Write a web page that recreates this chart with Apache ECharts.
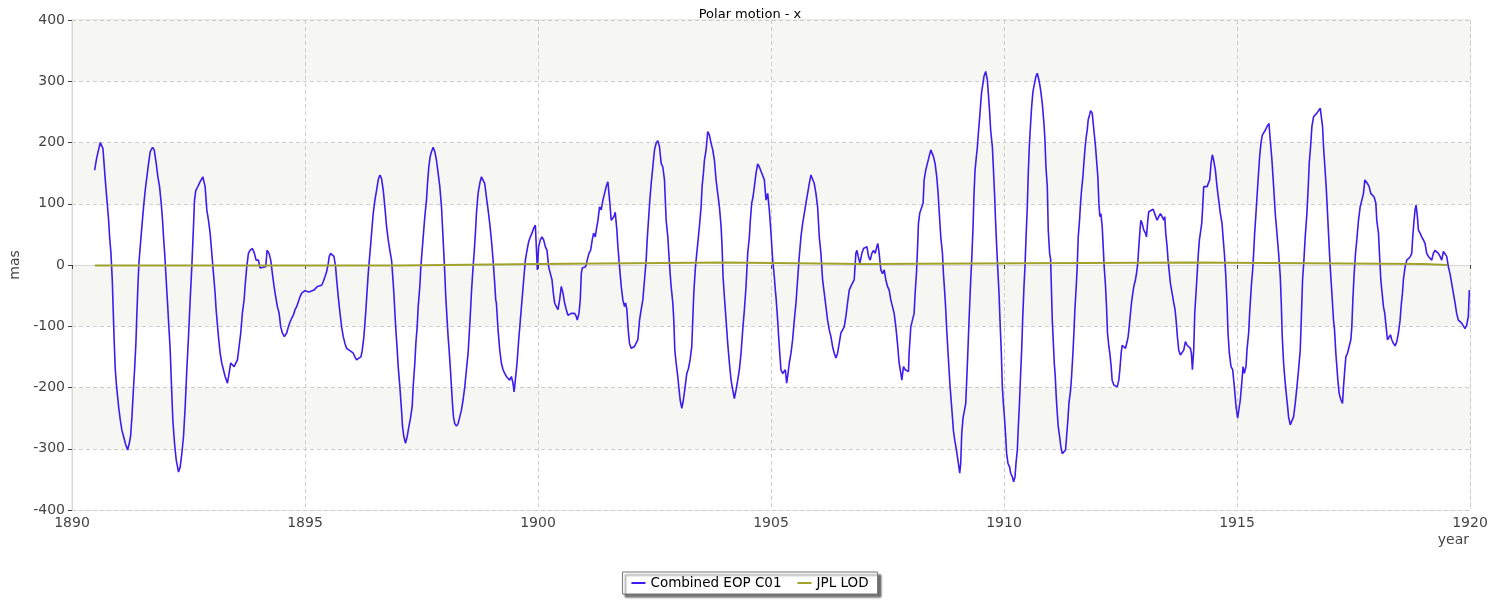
<!DOCTYPE html>
<html>
<head>
<meta charset="utf-8">
<script src="https://cdn.jsdelivr.net/npm/echarts@6/dist/echarts.min.js"></script>
<style>html,body{margin:0;padding:0;background:#fff;}#chart{width:1500px;height:600px;}</style>
</head>
<body>
<div id="chart"></div>
<script>
const titleText = 'Polar motion - x';
const seriesNames = ['Combined EOP C01', 'JPL LOD'];
const xName = 'year';
const yName = 'mas';

// Combined EOP C01 : [year, mas]
const c01 = [
[1890.486,155],[1890.53,175],[1890.607,200],[1890.664,190],[1890.714,139],[1890.75,106],[1890.786,73],[1890.807,46],[1890.836,19],[1890.864,-24],[1890.886,-78],[1890.907,-128],[1890.929,-171],[1890.957,-199],[1891.0,-231],[1891.036,-253],[1891.071,-270],[1891.107,-280],[1891.143,-291],[1891.193,-302],[1891.229,-291],[1891.257,-280],[1891.286,-248],[1891.321,-199],[1891.343,-171],[1891.371,-128],[1891.393,-78],[1891.414,-35],[1891.436,3],[1891.464,30],[1891.5,63],[1891.536,95],[1891.571,122],[1891.607,144],[1891.643,166],[1891.679,185],[1891.729,192],[1891.764,188],[1891.807,166],[1891.843,144],[1891.879,128],[1891.914,101],[1891.943,73],[1891.964,46],[1891.993,14],[1892.021,-24],[1892.05,-62],[1892.079,-101],[1892.107,-139],[1892.136,-199],[1892.164,-253],[1892.2,-291],[1892.236,-318],[1892.286,-338],[1892.321,-330],[1892.357,-308],[1892.393,-280],[1892.429,-231],[1892.464,-171],[1892.5,-117],[1892.536,-57],[1892.571,-3],[1892.607,63],[1892.629,106],[1892.657,122],[1892.7,128],[1892.75,136],[1892.807,144],[1892.857,128],[1892.893,90],[1892.929,73],[1892.964,52],[1893.0,19],[1893.036,-14],[1893.071,-46],[1893.093,-73],
[1893.143,-117],[1893.179,-144],[1893.214,-160],[1893.25,-171],[1893.286,-182],[1893.336,-193],[1893.371,-177],[1893.407,-160],[1893.443,-160],[1893.479,-166],[1893.514,-166],[1893.55,-155],[1893.586,-133],[1893.621,-111],[1893.657,-78],[1893.693,-57],[1893.714,-35],[1893.75,-3],[1893.786,19],[1893.821,24],[1893.871,27],[1893.914,19],[1893.95,8],[1894.0,8],[1894.036,-5],[1894.071,-3],[1894.157,-3],[1894.186,24],[1894.229,19],[1894.264,8],[1894.3,-14],[1894.336,-35],[1894.371,-52],[1894.407,-68],[1894.443,-78],[1894.479,-101],[1894.514,-111],[1894.557,-117],[1894.607,-111],[1894.643,-101],[1894.679,-93],[1894.714,-87],[1894.75,-82],[1894.786,-73],[1894.821,-68],[1894.857,-60],[1894.893,-52],[1894.929,-46],[1894.964,-44],[1895.0,-42],[1895.086,-44],[1895.121,-46],[1895.193,-41],[1895.264,-35],[1895.357,-33],[1895.393,-27],[1895.429,-19],[1895.464,-11],[1895.5,3],[1895.521,14],[1895.55,19],[1895.586,22],[1895.621,14],[1895.657,-3],[1895.679,-24],[1895.714,-52],[1895.75,-78],[1895.786,-101],[1895.821,-117],[1895.857,-128],[1895.893,-136],[1895.929,-139],[1895.986,-141],[1896.036,-144],[1896.071,-150],[1896.107,-155],
[1896.157,-152],[1896.2,-150],[1896.229,-139],[1896.264,-117],[1896.286,-95],[1896.307,-73],[1896.329,-46],[1896.357,-14],[1896.393,19],[1896.429,52],[1896.464,84],[1896.5,106],[1896.536,122],[1896.571,139],[1896.607,147],[1896.643,141],[1896.679,122],[1896.714,95],[1896.75,63],[1896.786,41],[1896.821,24],[1896.857,8],[1896.879,-14],[1896.907,-46],[1896.929,-78],[1896.95,-106],[1896.979,-139],[1897.0,-166],[1897.036,-199],[1897.071,-237],[1897.093,-264],[1897.121,-280],[1897.157,-291],[1897.193,-280],[1897.229,-264],[1897.264,-250],[1897.3,-231],[1897.321,-199],[1897.357,-160],[1897.379,-128],[1897.407,-101],[1897.429,-68],[1897.464,-35],[1897.486,-3],[1897.514,24],[1897.543,52],[1897.571,79],[1897.607,106],[1897.629,133],[1897.657,160],[1897.686,177],[1897.714,185],[1897.75,192],[1897.786,185],[1897.821,171],[1897.857,150],[1897.893,128],[1897.929,95],[1897.95,63],[1897.979,19],[1898.0,-14],[1898.021,-52],[1898.05,-90],[1898.071,-117],[1898.093,-139],[1898.121,-171],[1898.143,-199],[1898.164,-226],[1898.186,-248],[1898.214,-259],[1898.25,-263],[1898.286,-259],[1898.321,-248],[1898.357,-237],[1898.393,-220],[1898.429,-199],[1898.464,-171],[1898.5,-144],[1898.521,-117],[1898.55,-78],[1898.571,-46],[1898.607,-3],[1898.629,19],[1898.657,52],[1898.679,84],[1898.714,117],[1898.75,133],[1898.786,144],[1898.821,145],[1898.857,133],[1898.893,111],[1898.929,90],[1898.964,68],[1899.0,41],[1899.036,8],[1899.071,-30],[1899.093,-57],
[1899.107,-62],[1899.143,-106],[1899.179,-139],[1899.214,-160],[1899.25,-171],[1899.286,-177],[1899.321,-182],[1899.357,-185],[1899.393,-188],[1899.429,-182],[1899.464,-193],[1899.486,-207],[1899.514,-188],[1899.55,-160],[1899.586,-122],[1899.621,-90],[1899.657,-57],[1899.693,-24],[1899.729,8],[1899.764,24],[1899.8,38],[1899.836,46],[1899.871,52],[1899.907,60],[1899.943,65],[1899.964,30],[1899.986,-8],[1900.014,30],[1900.05,41],[1900.086,46],[1900.121,41],[1900.157,30],[1900.193,24],[1900.229,-3],[1900.264,-5],[1900.3,-24],[1900.329,-46],[1900.357,-62],[1900.393,-68],[1900.429,-73],[1900.464,-57],[1900.5,-35],[1900.536,-46],[1900.571,-62],[1900.607,-73],[1900.643,-82],[1900.714,-79],[1900.75,-76],[1900.786,-79],[1900.821,-84],[1900.843,-90],[1900.879,-79],[1900.907,-57],[1900.929,-14],[1900.95,-5],[1900.986,-8],[1901.021,-3],[1901.057,8],[1901.093,19],[1901.129,24],[1901.164,41],[1901.193,52],[1901.229,46],[1901.25,57],[1901.286,73],[1901.321,95],[1901.357,90],[1901.393,106],[1901.429,117],[1901.464,128],[1901.5,136],[1901.536,106],[1901.571,73],[1901.593,71],[1901.629,79],[1901.657,86],[1901.693,57],[1901.714,30],[1901.75,-3],[1901.786,-35],[1901.821,-57],[1901.857,-68],[1901.879,-62],[1901.907,-73],[1901.936,-106],[1901.964,-128],[1902.0,-136],[1902.036,-139],[1902.071,-133],
[1902.107,-131],[1902.143,-122],[1902.179,-90],[1902.214,-73],[1902.25,-57],[1902.286,-24],[1902.321,8],[1902.343,41],[1902.371,73],[1902.4,106],[1902.429,133],[1902.464,160],[1902.5,188],[1902.536,199],[1902.571,203],[1902.607,193],[1902.643,166],[1902.679,160],[1902.714,139],[1902.75,73],[1902.786,46],[1902.807,19],[1902.836,-14],[1902.857,-35],[1902.893,-62],[1902.914,-90],[1902.936,-139],[1902.964,-160],[1903.0,-182],[1903.021,-199],[1903.05,-220],[1903.086,-234],[1903.121,-220],[1903.157,-199],[1903.193,-177],[1903.229,-169],[1903.264,-155],[1903.3,-133],[1903.321,-90],[1903.343,-46],[1903.379,-3],[1903.407,19],[1903.436,41],[1903.464,63],[1903.5,95],[1903.521,128],[1903.55,150],[1903.571,171],[1903.607,188],[1903.643,218],[1903.679,212],[1903.714,199],[1903.75,188],[1903.786,171],[1903.821,139],[1903.857,117],[1903.893,95],[1903.929,63],[1903.95,30],[1903.971,-19],[1904.0,-52],[1904.036,-90],[1904.071,-128],[1904.107,-160],[1904.143,-188],[1904.179,-204],[1904.214,-218],[1904.25,-204],[1904.286,-188],[1904.321,-171],[1904.357,-144],[1904.393,-106],[1904.429,-73],[1904.464,-35],[1904.5,19],[1904.536,46],[1904.557,73],[1904.586,101],[1904.614,111],[1904.643,128],[1904.679,150],[1904.714,165],[1904.75,160],[1904.786,153],[1904.821,150],[1904.857,139],[1904.893,106],[1904.929,117],[1904.964,90],[1905.0,52],[1905.036,8],[1905.071,-19],[1905.093,-41],
[1905.107,-52],[1905.143,-90],[1905.164,-117],[1905.193,-150],[1905.214,-171],[1905.25,-177],[1905.286,-180],[1905.307,-171],[1905.336,-193],[1905.357,-182],[1905.393,-160],[1905.429,-144],[1905.464,-122],[1905.5,-90],[1905.536,-62],[1905.571,-24],[1905.607,14],[1905.643,46],[1905.679,68],[1905.714,84],[1905.75,101],[1905.786,117],[1905.821,133],[1905.857,147],[1905.893,144],[1905.929,133],[1905.964,117],[1906.0,95],[1906.036,46],[1906.071,19],[1906.107,-24],[1906.143,-46],[1906.179,-68],[1906.214,-90],[1906.25,-106],[1906.286,-117],[1906.321,-133],[1906.357,-144],[1906.393,-152],[1906.429,-144],[1906.464,-128],[1906.5,-111],[1906.536,-106],[1906.571,-101],[1906.607,-84],[1906.643,-62],[1906.679,-41],[1906.714,-35],[1906.75,-33],[1906.786,-24],[1906.821,19],[1906.843,24],[1906.871,14],[1906.907,3],[1906.95,19],[1906.986,27],[1907.057,30],[1907.093,14],[1907.129,8],[1907.164,19],[1907.2,24],[1907.236,19],[1907.271,30],[1907.293,35],[1907.321,19],[1907.357,-8],[1907.393,-14],[1907.429,-8],[1907.464,-24],[1907.5,-35],[1907.536,-41],[1907.571,-57],[1907.607,-68],[1907.643,-79],[1907.679,-101],[1907.714,-128],[1907.75,-160],[1907.786,-177],[1907.807,-188],[1907.843,-166],[1907.879,-171],[1907.95,-174],[1907.964,-144],[1908.0,-101],[1908.036,-104],[1908.071,-79],[1908.093,-46],
[1908.121,-14],[1908.143,24],[1908.164,68],[1908.193,85],[1908.229,84],[1908.264,101],[1908.286,139],[1908.321,155],[1908.357,166],[1908.393,177],[1908.429,188],[1908.45,191],[1908.486,177],[1908.521,166],[1908.557,144],[1908.586,117],[1908.621,73],[1908.643,46],[1908.679,19],[1908.7,-14],[1908.729,-46],[1908.75,-73],[1908.771,-106],[1908.8,-144],[1908.821,-171],[1908.843,-199],[1908.871,-226],[1908.893,-248],[1908.914,-270],[1908.943,-286],[1908.979,-302],[1909.0,-313],[1909.021,-324],[1909.05,-340],[1909.071,-324],[1909.093,-275],[1909.121,-250],[1909.143,-248],[1909.179,-226],[1909.2,-188],[1909.229,-133],[1909.25,-90],[1909.286,-24],[1909.307,8],[1909.336,63],[1909.357,117],[1909.379,155],[1909.407,177],[1909.429,193],[1909.45,215],[1909.479,242],[1909.5,264],[1909.521,283],[1909.55,297],[1909.571,308],[1909.607,316],[1909.643,302],[1909.664,280],[1909.693,248],[1909.714,220],[1909.75,193],[1909.771,160],[1909.8,111],[1909.821,68],[1909.843,30],[1909.864,-3],[1909.893,-46],[1909.914,-90],[1909.943,-144],[1909.964,-199],[1909.986,-226],[1910.014,-253],[1910.036,-280],[1910.057,-308],[1910.086,-324],[1910.121,-330],[1910.143,-340],[1910.179,-346],[1910.207,-354],[1910.236,-346],[1910.257,-324],[1910.286,-302],[1910.307,-264],[1910.329,-231],[1910.357,-177],[1910.379,-139],[1910.4,-90],[1910.429,-35],[1910.45,-3],[1910.471,41],[1910.5,95],[1910.521,150],[1910.543,193],[1910.571,231],[1910.593,258],[1910.621,283],[1910.657,297],[1910.686,308],[1910.714,313],[1910.75,302],[1910.786,286],[1910.821,264],[1910.857,231],[1910.879,204],[1910.9,160],[1910.929,128],[1910.95,57],[1910.979,19],
[1911.0,10],[1911.036,-90],[1911.079,-160],[1911.1,-182],[1911.121,-215],[1911.143,-242],[1911.164,-264],[1911.193,-280],[1911.221,-297],[1911.25,-308],[1911.286,-310],[1911.321,-302],[1911.343,-280],[1911.371,-253],[1911.393,-226],[1911.429,-204],[1911.45,-182],[1911.479,-144],[1911.5,-111],[1911.521,-73],[1911.55,-35],[1911.571,-3],[1911.593,46],[1911.621,73],[1911.643,101],[1911.664,122],[1911.693,144],[1911.714,166],[1911.736,188],[1911.764,209],[1911.786,220],[1911.807,237],[1911.836,245],[1911.857,252],[1911.893,248],[1911.929,220],[1911.964,193],[1911.986,171],[1912.014,144],[1912.036,101],[1912.057,79],[1912.079,84],[1912.107,63],[1912.129,30],[1912.15,-3],[1912.179,-35],[1912.2,-68],[1912.221,-111],[1912.25,-133],[1912.271,-144],[1912.3,-166],[1912.321,-188],[1912.357,-196],[1912.393,-196],[1912.429,-199],[1912.464,-188],[1912.486,-171],[1912.514,-144],[1912.536,-131],[1912.571,-133],[1912.607,-136],[1912.643,-125],[1912.664,-117],[1912.686,-101],[1912.714,-79],[1912.736,-62],[1912.764,-46],[1912.786,-35],[1912.821,-24],[1912.843,-14],[1912.871,3],[1912.893,30],[1912.914,52],[1912.936,73],[1912.964,68],[1913.0,57],[1913.036,52],[1913.057,46],[1913.086,73],[1913.107,87],[1913.143,90],[1913.2,91],[1913.229,90],[1913.257,79],[1913.286,73],[1913.321,79],[1913.357,84],[1913.393,79],[1913.429,73],[1913.45,79],[1913.471,52],[1913.5,30],[1913.521,8],[1913.55,-14],[1913.571,-30],[1913.607,-46],[1913.643,-62],[1913.671,-73],[1913.693,-90],[1913.721,-117],[1913.75,-139],[1913.786,-147],[1913.821,-147],[1913.857,-139],[1913.893,-125],[1913.929,-131],[1913.964,-133],[1914.0,-136],[1914.021,-144],[1914.043,-171],[1914.071,-139],[1914.093,-79],
[1914.129,-35],[1914.15,-8],[1914.171,19],[1914.193,41],[1914.214,52],[1914.243,68],[1914.264,95],[1914.286,128],[1914.357,128],[1914.393,128],[1914.414,139],[1914.443,166],[1914.471,180],[1914.5,171],[1914.536,155],[1914.571,128],[1914.607,106],[1914.643,84],[1914.679,68],[1914.7,46],[1914.729,19],[1914.757,-14],[1914.786,-62],[1914.807,-111],[1914.836,-144],[1914.871,-166],[1914.907,-171],[1914.943,-199],[1914.979,-231],[1915.014,-250],[1915.05,-248],[1915.071,-220],[1915.107,-188],[1915.129,-166],[1915.157,-177],[1915.193,-166],[1915.214,-139],[1915.25,-111],[1915.271,-79],[1915.307,-35],[1915.336,-8],[1915.357,19],[1915.379,52],[1915.407,84],[1915.429,111],[1915.457,144],[1915.486,177],[1915.514,199],[1915.543,212],[1915.571,215],[1915.607,220],[1915.643,226],[1915.686,231],[1915.714,204],[1915.75,171],[1915.786,128],[1915.821,84],[1915.857,52],[1915.893,19],[1915.929,-19],[1915.95,-62],[1915.971,-117],[1916.0,-160],[1916.029,-188],[1916.057,-210],[1916.086,-231],[1916.107,-248],[1916.143,-261],[1916.179,-259],[1916.214,-248],[1916.25,-226],[1916.286,-199],[1916.321,-171],[1916.357,-139],[1916.379,-90],[1916.407,-24],[1916.436,8],[1916.464,46],[1916.5,84],[1916.529,128],[1916.55,166],[1916.579,193],[1916.607,226],[1916.643,242],[1916.679,245],[1916.714,248],[1916.75,250],[1916.786,256],[1916.807,259],[1916.836,226],[1916.857,193],[1916.886,160],[1916.914,128],[1916.943,84],[1916.971,41],[1917.0,-3],[1917.036,-46],[1917.071,-90],
[1917.093,-106],[1917.121,-144],[1917.143,-166],[1917.164,-188],[1917.193,-210],[1917.229,-220],[1917.264,-226],[1917.286,-199],[1917.307,-177],[1917.336,-150],[1917.371,-144],[1917.407,-141],[1917.443,-122],[1917.464,-101],[1917.486,-57],[1917.514,-14],[1917.543,19],[1917.571,41],[1917.607,73],[1917.643,95],[1917.679,106],[1917.714,117],[1917.743,139],[1917.771,141],[1917.8,133],[1917.836,128],[1917.871,117],[1917.907,114],[1917.943,111],[1917.979,101],[1918.0,73],[1918.036,52],[1918.057,19],[1918.086,-24],[1918.114,-46],[1918.143,-68],[1918.171,-79],[1918.2,-101],[1918.229,-122],[1918.264,-125],[1918.293,-114],[1918.321,-122],[1918.357,-128],[1918.393,-132],[1918.429,-125],[1918.464,-111],[1918.5,-90],[1918.521,-68],[1918.55,-46],[1918.571,-24],[1918.607,-3],[1918.643,8],[1918.679,11],[1918.714,13],[1918.75,19],[1918.771,46],[1918.8,73],[1918.821,90],[1918.843,98],[1918.871,79],[1918.893,57],[1918.929,52],[1918.964,46],[1919.0,41],[1919.036,35],[1919.071,19],[1919.107,14],[1919.143,11],[1919.179,8],[1919.214,19],[1919.25,24],[1919.286,22],[1919.321,19],[1919.357,14],[1919.393,8],[1919.429,22],[1919.464,19],[1919.5,14],[1919.536,-3],[1919.571,-14],[1919.607,-30],[1919.643,-46],[1919.679,-62],[1919.714,-79],[1919.75,-90],[1919.786,-93],[1919.821,-95],[1919.857,-98],[1919.893,-104],[1919.929,-98],[1919.964,-84],[1919.986,-41]
];

// JPL LOD : [year, mas] (piecewise-constant levels)
const jpl = [
[1890.49,-1],[1897.0,1.5],[1900.0,4],[1904.0,1.5],[1907.0,4],[1914.0,1.5],[1919.0,0],[1919.51,0]
];

const xMin = 1890, xMax = 1920, xStep = 5;
const yMin = -400, yMax = 400, yStep = 100;

const FONT = 'DejaVu Sans';
const chart = echarts.init(document.getElementById('chart'), null, {renderer: 'canvas'});
chart.setOption({
  animation: false,
  backgroundColor: '#ffffff',
  title: {
    text: titleText, left: 'center', top: 3,
    textStyle: {fontFamily: FONT, fontSize: 13, fontWeight: 'normal', color: '#000'}
  },
  legend: {
    bottom: 6, left: 'center',
    data: seriesNames,
    icon: 'rect', itemWidth: 14, itemHeight: 2, itemGap: 16,
    padding: [4, 9, 4, 9],
    borderColor: '#777', borderWidth: 1, backgroundColor: '#fff',
    shadowColor: 'rgba(0,0,0,0.55)', shadowBlur: 2, shadowOffsetX: 3, shadowOffsetY: 3,
    textStyle: {fontFamily: FONT, fontSize: 13.5, color: '#000'}
  },
  graphic: [{
    type: 'text', right: 31, top: 533,
    style: {text: xName, fontFamily: FONT, fontSize: 14, fill: '#444'}
  }],
  grid: {left: 70, right: 30, top: 20, bottom: 90, show: true, borderColor: '#d8d8d8', borderWidth: 1, backgroundColor: 'transparent'},
  xAxis: {
    type: 'value', min: xMin, max: xMax, interval: xStep,
    axisLine: {show: true, lineStyle: {color: '#d8d8d8'}},
    axisTick: {show: true, length: 4, lineStyle: {color: '#444'}},
    axisLabel: {fontFamily: FONT, fontSize: 14, color: '#444', margin: 6, formatter: v => String(v)},
    splitLine: {show: true, lineStyle: {color: '#cccccc', type: [4, 3]}}
  },
  yAxis: {
    type: 'value', min: yMin, max: yMax, interval: yStep,
    name: yName, nameLocation: 'middle', nameGap: 50, nameRotate: 90,
    nameTextStyle: {fontFamily: FONT, fontSize: 14, color: '#444'},
    axisLine: {show: true, lineStyle: {color: '#d8d8d8'}},
    axisTick: {show: true, length: 4, lineStyle: {color: '#444'}},
    axisLabel: {fontFamily: FONT, fontSize: 14, color: '#444', margin: 7},
    splitLine: {show: true, lineStyle: {color: '#cccccc', type: [4, 3]}},
    splitArea: {show: true, areaStyle: {color: ['#ffffff', '#f6f6f2']}}
  },
  series: [
    {
      name: seriesNames[0], type: 'line', data: c01, showSymbol: false, symbol: 'none',
      lineStyle: {color: '#3d1cf0', width: 1.6}, itemStyle: {color: '#3d1cf0'}, z: 3
    },
    {
      name: seriesNames[1], type: 'line', data: jpl, step: 'end', showSymbol: false, symbol: 'none',
      lineStyle: {color: '#a0a22c', width: 2}, itemStyle: {color: '#a0a22c'}, z: 4
    }
  ]
});
</script>
</body>
</html>
